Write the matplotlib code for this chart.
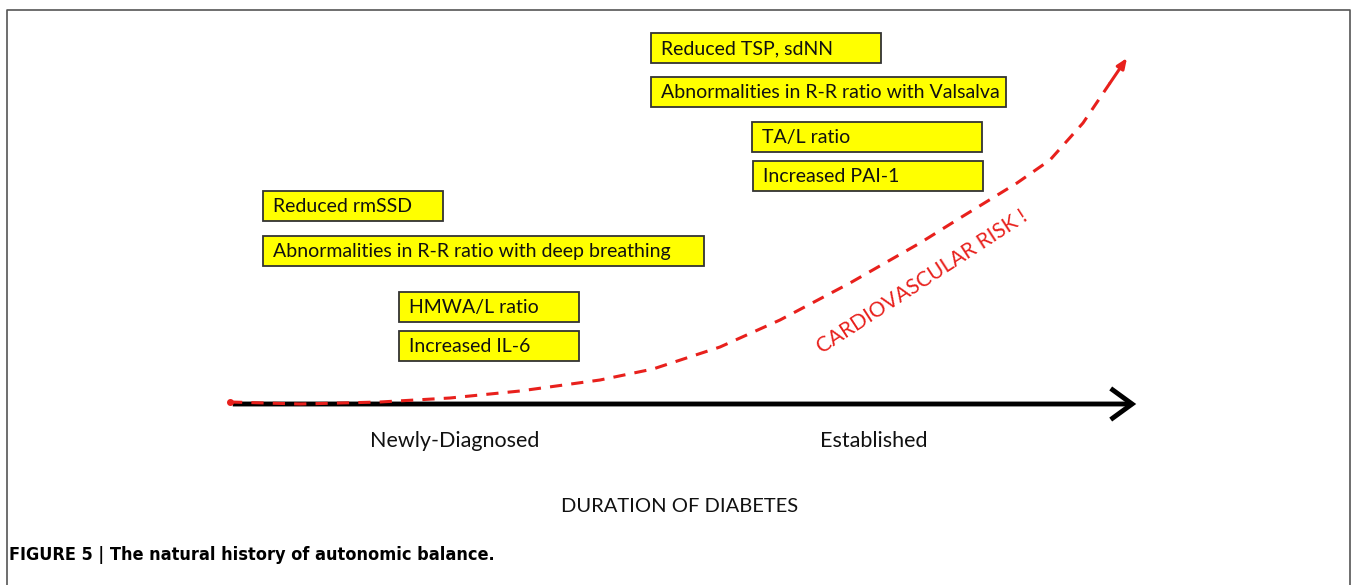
import matplotlib
matplotlib.use('Agg')
import matplotlib.pyplot as plt
from matplotlib.patches import Rectangle, FancyArrowPatch

# findings boxes (left edge, top edge, width) in figure pixels
labels = ['Reduced TSP, sdNN', 'Abnormalities in R-R ratio with Valsalva',
          'TA/L ratio', 'Increased PAI-1',
          'Reduced rmSSD', 'Abnormalities in R-R ratio with deep breathing',
          'HMWA/L ratio', 'Increased IL-6']
box_x = [651, 651, 752, 753, 263, 263, 399, 399]
box_y = [33, 77, 122, 161, 191, 236, 292, 331]
box_w = [230, 355, 230, 230, 180, 441, 180, 180]
box_h = 30

# cardiovascular risk curve
risk_x = [230, 300, 380, 450, 520, 600, 653, 720, 780, 850, 920, 960, 1017, 1050, 1083, 1110, 1127]
risk_y = [402, 404, 402, 398, 391, 380, 369, 347, 320, 283, 243, 218, 183, 160, 123, 83, 58]

stages = ['Newly-Diagnosed', 'Established']
stage_x = [455, 874]

font = ['Lato', 'DejaVu Sans']
red = '#e8201c'

fig = plt.figure(figsize=(13.57, 5.85), dpi=100)
ax = fig.add_axes([0, 0, 1, 1])
ax.set_xlim(0, 1357)
ax.set_ylim(585, 0)
ax.axis('off')

# outer frame
ax.plot([7, 7, 1350, 1350], [600, 10, 10, 600], color='#555555', lw=1.2)

for lab, x, y, w in zip(labels, box_x, box_y, box_w):
    ax.add_patch(Rectangle((x, y), w, box_h, facecolor='#ffff00',
                           edgecolor='#333333', lw=1.3))
    ax.text(x + 10, y + box_h / 2 + 1, lab, fontsize=14, family=font,
            va='center', ha='left', color='#111111')

# time axis
ax.add_patch(FancyArrowPatch((230, 404), (1139, 404),
                             arrowstyle='->,head_length=1.1,head_width=0.8',
                             color='black', lw=3.5, mutation_scale=14,
                             capstyle='butt', joinstyle='miter'))

# risk curve
ax.plot(risk_x[:-1], risk_y[:-1], color=red, lw=2.2, ls=(0, (4, 3)))
ax.annotate('', xy=(risk_x[-1], risk_y[-1]), xytext=(risk_x[-2], risk_y[-2]),
            arrowprops=dict(arrowstyle='-|>,head_length=0.6,head_width=0.25',
                            color=red, lw=2.2, shrinkA=0, shrinkB=0))
ax.plot(risk_x[0], risk_y[0], 'o', color=red, ms=4)

ax.text(922, 282, 'CARDIOVASCULAR RISK !', rotation=33, fontsize=15,
        family=font, color=red, ha='center', va='center',
        rotation_mode='anchor')

for s, x in zip(stages, stage_x):
    ax.text(x, 441, s, fontsize=15.5, family=font, ha='center', va='center',
            color='#111111')

ax.text(680, 506, 'DURATION OF DIABETES', fontsize=14.5, family=font,
        ha='center', va='center', color='#111111')

ax.text(9, 555, 'FIGURE 5 | The natural history of autonomic balance.',
        fontsize=13, fontweight='bold', fontstretch='condensed',
        family=['DejaVu Sans'], ha='left', va='center', color='black')

fig.savefig('out.png', dpi=100)
